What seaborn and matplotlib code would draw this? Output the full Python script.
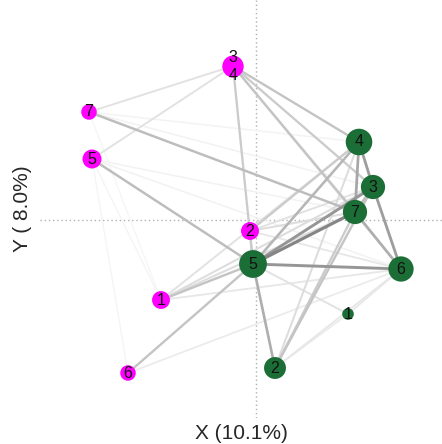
import pandas as pd
import matplotlib.pyplot as plt
import seaborn as sns

# node coordinates (first two dimensions) and masses
row_ids = ["r1", "r2", "r3", "r4", "r5", "r6", "r7"]
row_labels = ["1", "2", "3", "4", "5", "6", "7"]
row_x = [-0.95, -0.06, -0.23, -0.23, -1.64, -1.28, -1.67]
row_y = [-0.80, -0.11, 1.54, 1.53, 0.61, -1.53, 1.08]
row_mass = [2.4, 2.4, 3.3, 3.3, 2.7, 1.8, 1.8]

col_ids = ["c1", "c2", "c3", "c4", "c5", "c6", "c7"]
col_labels = ["1", "2", "3", "4", "5", "6", "7"]
col_x = [0.92, 0.19, 1.17, 1.03, -0.03, 1.45, 0.99]
col_y = [-0.94, -1.48, 0.33, 0.78, -0.44, -0.49, 0.08]
col_mass = [1.0, 3.6, 4.4, 5.3, 5.8, 4.8, 4.4]

# edges: source, target, strength
edge_from = ["c5", "c5", "c5", "c4", "c3", "c4", "c7", "c5", "c5", "c3",
             "c2", "c2", "c2", "c2", "c2", "c1", "c5",
             "r3", "r3", "r3", "r3", "r3", "r3", "r3",
             "r7", "r5", "r6", "r6",
             "r1", "r1", "r1", "r1", "r1",
             "r2", "r2", "r2", "r2", "r2",
             "r5", "r5", "r7", "r7", "r5", "r7", "r5"]
edge_to = ["c7", "c3", "c6", "c3", "c6", "c7", "c6", "c4", "c2", "c7",
           "c7", "c3", "c4", "c6", "c1", "c6", "c1",
           "c4", "c7", "c3", "c6", "c5", "r7", "r5",
           "c7", "c5", "c5", "c6",
           "c5", "c7", "c3", "c6", "c4",
           "c5", "c4", "c7", "c3", "c6",
           "c7", "c6", "c3", "c4", "r1", "r1", "r6"]
edge_w = [0.95, 0.85, 0.85, 0.8, 0.8, 0.75, 0.7, 0.65, 0.7, 0.6,
          0.5, 0.55, 0.35, 0.25, 0.2, 0.25, 0.3,
          0.55, 0.55, 0.5, 0.35, 0.5, 0.3, 0.3,
          0.6, 0.6, 0.55, 0.2,
          0.55, 0.35, 0.35, 0.25, 0.3,
          0.5, 0.5, 0.35, 0.3, 0.25,
          0.1, 0.1, 0.1, 0.08, 0.03, 0.02, 0.03]

nodes = pd.DataFrame({
    "id": row_ids + col_ids,
    "label": row_labels + col_labels,
    "x": row_x + col_x,
    "y": row_y + col_y,
    "mass": row_mass + col_mass,
    "type": ["row"] * len(row_ids) + ["col"] * len(col_ids),
})
pos = nodes.set_index("id")[["x", "y"]]

edges = pd.DataFrame({"src": edge_from, "dst": edge_to, "w": edge_w})
edges = edges.sort_values("w").reset_index(drop=True)

sns.set_theme(style="white")
plt.rcParams['font.family'] = ['Liberation Sans', 'DejaVu Sans']

fig = plt.figure(figsize=(4.42, 4.44), dpi=100)
ax = fig.add_axes([40 / 442, 26 / 444, 402 / 442, 418 / 444])

ax.axhline(0, color="#b0b0b0", ls=(0, (1, 2)), lw=1, zorder=0)
ax.axvline(0, color="#b0b0b0", ls=(0, (1, 2)), lw=1, zorder=0)

for i, e in edges.iterrows():
    g = 0.965 - 0.48 * e["w"] ** 1.5
    ax.plot([pos.loc[e["src"], "x"], pos.loc[e["dst"], "x"]],
            [pos.loc[e["src"], "y"], pos.loc[e["dst"], "y"]],
            color=(g, g, g), lw=1.0 + 1.3 * e["w"], solid_capstyle="round", zorder=1)

sns.scatterplot(data=nodes, x="x", y="y", hue="type", size="mass",
                palette={"row": "#ff00ff", "col": "#1b6e35"},
                sizes=(70, 400), size_norm=(1.0, 5.8),
                linewidth=0, legend=False, ax=ax, zorder=3)

for _, n in nodes.iterrows():
    dy = 0
    if n["id"] == "r3":
        dy = 6
    elif n["id"] == "r4":
        dy = -6
    ax.annotate(n["label"], (n["x"], n["y"]), xytext=(0, dy), textcoords="offset points",
                ha="center", va="center", fontsize=11.5, color="#111111", zorder=4)

ax.set_xlim(-2.16, 1.86)
ax.set_ylim(-1.98, 2.20)
ax.set_xticks([])
ax.set_yticks([])
sns.despine(ax=ax, left=True, bottom=True)
ax.set_xlabel("X (10.1%)", fontsize=15, labelpad=4)
ax.set_ylabel("Y ( 8.0%)", fontsize=15, labelpad=6)

plt.savefig("out.png", dpi=100)
plt.close()
